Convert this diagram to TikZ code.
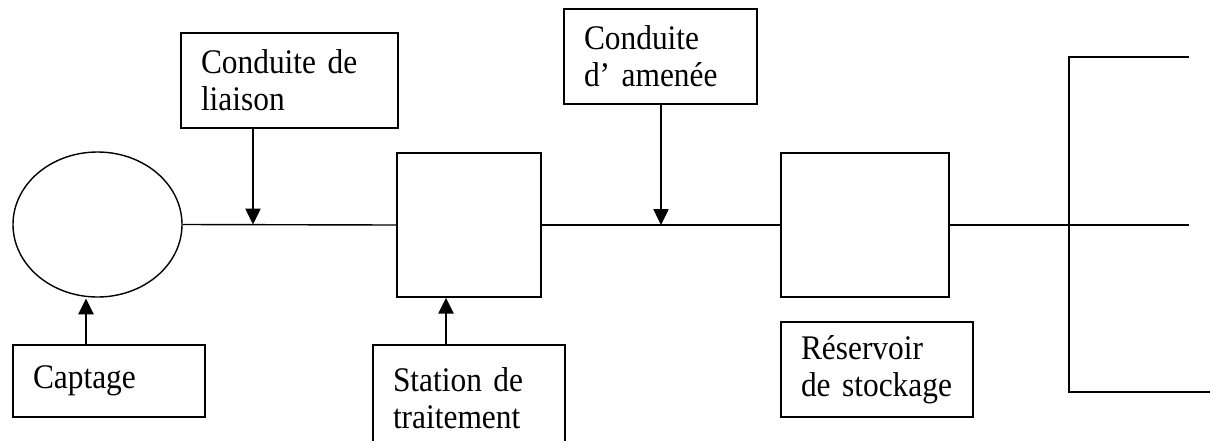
\documentclass[tikz,border=0pt]{standalone}
\usepackage{fontspec}
\setmainfont{Liberation Serif}[FakeStretch=0.91]
\usetikzlibrary{shapes.geometric,arrows.meta}
\begin{document}
\begin{tikzpicture}[x=1pt,y=-1pt,
  thin line/.style={line width=1.4pt},
  label box/.style={draw, rectangle, line width=1.4pt, align=left, inner xsep=20pt, inner ysep=0pt,
    font=\fontsize{34.5}{37}\selectfont},
  unit box/.style={draw, rectangle, line width=1.4pt, inner sep=0pt},
  feed/.style={line width=2.5pt, -{Triangle[width=15pt,length=16pt]}}
]
\useasboundingbox (0,0) rectangle (1210,440);
\clip (0,0) rectangle (1210,440);

% main units
\node[draw, ellipse, line width=1.4pt, inner sep=0pt, minimum width=169pt, minimum height=145pt] (source) at (97.5,224.5) {};
\node[unit box, minimum width=144pt, minimum height=144pt] (treat) at (469,225) {};
\node[unit box, minimum width=168pt, minimum height=144pt] (res) at (865,225) {};

% label boxes
\node[label box, minimum width=192pt, minimum height=72pt, text width=152pt] (captageL) at (109,381) {Captage};
\node[label box, minimum width=217pt, minimum height=95pt, text width=177pt] (liaisonL) at (289.5,80.5) {Conduite de\\liaison};
\node[label box, minimum width=192pt, minimum height=106pt, text width=152pt] (stationL) at (469,398) {Station de\\traitement};
\node[label box, minimum width=193pt, minimum height=95pt, text width=153pt] (ameneeL) at (660.5,56.5) {Conduite\\d’ amenée};
\node[label box, minimum width=192pt, minimum height=95pt, text width=152pt] (reservoirL) at (877,369.5) {Réservoir\\de stockage};

% distribution network
\coordinate (junc) at (1069,225);
\coordinate (dtop) at (1069,57);
\coordinate (dbot) at (1069,392);
\coordinate (etop) at (1189,57);
\coordinate (emid) at (1189,225);
\coordinate (ebot) at (1210,392);

% x positions of feed arrows
\coordinate (xa) at (86,0);
\coordinate (xb) at (253,0);
\coordinate (xc) at (446,0);
\coordinate (xd) at (661,0);
\coordinate (xe1) at (685,0);
\coordinate (xe2) at (708,0);

% pipelines
\draw[thin line] (source.east) -- (treat.west);
\draw[thin line] (treat.east) -- (res.west);
\draw[line width=2.4pt] (treat.east -| xe1) -- (treat.east -| xe2);
\draw[thin line] (res.east) -- (junc);
\draw[thin line] (etop) -- (dtop) -- (dbot) -- (ebot);
\draw[thin line] (junc) -- (emid);

% feed arrows
\draw[feed] (captageL.north -| xa) -- ([yshift=-0.7pt]source.south -| xa);
\draw[feed] (liaisonL.south -| xb) -- (source.east -| xb);
\draw[feed] (stationL.north -| xc) -- (treat.south -| xc);
\draw[feed] (ameneeL.south -| xd) -- (treat.east -| xd);
\end{tikzpicture}
\end{document}
